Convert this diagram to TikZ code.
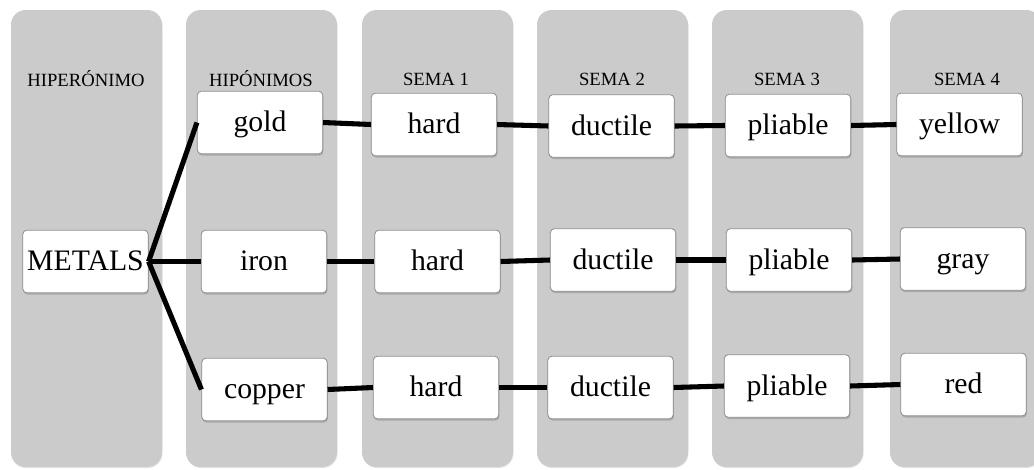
\documentclass[tikz,border=0pt]{standalone}
\usepackage{fontspec}
\setmainfont{Liberation Serif}
\usetikzlibrary{shadows}
\definecolor{colgray}{HTML}{CBCBCB}
\definecolor{boxborder}{HTML}{8C8C8C}
\begin{document}
\begin{tikzpicture}[x=0.75pt,y=-0.75pt,
  colbg/.style={fill=colgray, rounded corners=11pt,
    drop shadow={shadow xshift=0.4pt, shadow yshift=-0.8pt, opacity=0.2}},
  box/.style={draw=boxborder, line width=0.6pt, fill=white, rounded corners=3pt,
    minimum width=94pt, minimum height=47pt, inner sep=0pt,
    font=\fontsize{22.3}{26}\selectfont, text height=16pt, text depth=2.5pt,
    drop shadow={shadow xshift=0.6pt, shadow yshift=-1.3pt, opacity=0.45}},
  head/.style={font=\fontsize{14}{16}\selectfont, inner sep=0pt},
  link/.style={line width=3.8pt, black}
]
\useasboundingbox (0,0) rectangle (1034,469);
% columns
\fill[colbg] (11,10) rectangle (162,467);
\fill[colbg] (186,10) rectangle (337,467);
\fill[colbg] (362,10) rectangle (513,467);
\fill[colbg] (537,10) rectangle (688,467);
\fill[colbg] (712,10) rectangle (863,467);
\fill[colbg] (890,10) rectangle (1041,467);
% headers
\node[head] (h1) at (86,79) {HIPERÓNIMO};
\node[head] (h2) at (261,79) {HIPÓNIMOS};
\node[head] (h3) at (436,79) {SEMA 1};
\node[head] (h4) at (612,79) {SEMA 2};
\node[head] (h5) at (787,79) {SEMA 3};
\node[head] (h6) at (967,79) {SEMA 4};
% nodes
\node[box] (metals) at (85.5,261.5) {METALS};
\node[box] (gold) at (260,122.5) {gold};
\node[box] (iron) at (264,261.5) {iron};
\node[box] (copper) at (264.5,389.5) {copper};
\node[box] (hard1) at (434,124.5) {hard};
\node[box] (hard2) at (437.5,261.5) {hard};
\node[box] (hard3) at (436,387.5) {hard};
\node[box] (duct1) at (611.5,126) {ductile};
\node[box] (duct2) at (613,260) {ductile};
\node[box] (duct3) at (610.5,387.5) {ductile};
\node[box] (pli1) at (788,125.5) {pliable};
\node[box] (pli2) at (789,260) {pliable};
\node[box] (pli3) at (787,386) {pliable};
\node[box] (yellow) at (959.5,124.5) {yellow};
\node[box] (gray) at (963,259) {gray};
\node[box] (red) at (963.5,384.5) {red};
% connectors
\draw[link] (metals.east) -- (gold.west);
\draw[link] (metals.east) -- (iron.west);
\draw[link] (metals.east) -- (copper.west);
\draw[link] (gold.east) -- (hard1.west);
\draw[link] (iron.east) -- (hard2.west);
\draw[link] (copper.east) -- (hard3.west);
\draw[link] (hard1.east) -- (duct1.west);
\draw[link] (hard2.east) -- (duct2.west);
\draw[link] (hard3.east) -- (duct3.west);
\draw[link] (duct1.east) -- (pli1.west);
\draw[link] (duct2.east) -- (pli2.west);
\draw[link] (duct3.east) -- (pli3.west);
\draw[link] (pli1.east) -- (yellow.west);
\draw[link] (pli2.east) -- (gray.west);
\draw[link] (pli3.east) -- (red.west);
\end{tikzpicture}
\end{document}
